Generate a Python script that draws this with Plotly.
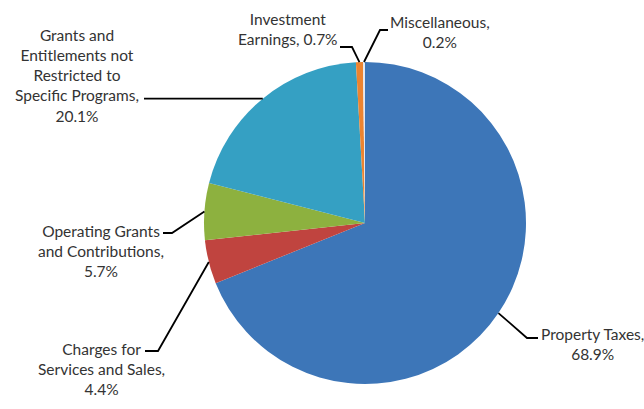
import math
import plotly.graph_objects as go

# ---- data ----
labels = ["Property Taxes", "Charges for Services and Sales", "Operating Grants and Contributions",
          "Grants and Entitlements not Restricted to Specific Programs", "Investment Earnings", "Miscellaneous"]
values = [68.9, 4.4, 5.7, 20.1, 0.7, 0.2]
label_texts = [
    "Property Taxes,<br>68.9%",
    "Charges for<br>Services and Sales,<br>4.4%",
    "Operating Grants<br>and Contributions,<br>5.7%",
    "Grants and<br>Entitlements not<br>Restricted to<br>Specific Programs,<br>20.1%",
    "Investment<br>Earnings, 0.7%",
    "Miscellaneous,<br>0.2%",
]
colors = ["#3D76B8", "#C0443F", "#8DB13F", "#35A0C3", "#EC8430", "#E4E8EE"]

# ---- layout (pixels) ----
W, H = 644, 409
CX, CY, R = 365, 223, 161

# label centres and leader elbow / end points (pixel coordinates)
label_pos = [(592, 344), (101, 369), (101, 251), (77, 75), (288, 29), (440, 32)]
elbows = [(527, 338), (158, 351), (172, 233), None, (352, 47), (380, 30)]
ends = [(538, 338), (145, 351), (163, 233), (144, None), (340, 47), (388, 30)]


def px(x, y):
    return x / W, (H - y) / H


fig = go.Figure(go.Pie(
    labels=labels, values=values, sort=False, direction="clockwise", rotation=0,
    marker=dict(colors=colors, line=dict(width=0)),
    textinfo="none", showlegend=False,
    domain=dict(x=[(CX - R) / W, (CX + R) / W], y=[(H - (CY + R)) / H, (H - (CY - R)) / H]),
))

total = sum(values)
cum = 0
shapes = []
annotations = []
for i, v in enumerate(values):
    theta = 2 * math.pi * (cum + v / 2) / total
    cum += v
    sx = CX + R * math.sin(theta)
    sy = CY - R * math.cos(theta)
    pts = [(sx, sy)]
    if elbows[i] is not None:
        pts.append(elbows[i])
    ex, ey = ends[i]
    if ey is None:
        ey = sy
    pts.append((ex, ey))
    path = ""
    for j, (x, y) in enumerate(pts):
        X, Y = px(x, y)
        path += ("M" if j == 0 else "L") + f"{X},{Y} "
    shapes.append(dict(type="path", xref="paper", yref="paper", path=path,
                       line=dict(color="#000000", width=1.8)))
    lx, ly = px(*label_pos[i])
    annotations.append(dict(x=lx, y=ly, xref="paper", yref="paper", text=label_texts[i],
                            showarrow=False, xanchor="center", yanchor="middle", align="center",
                            font=dict(family="Lato", size=15.5, color="#333333")))

fig.update_layout(width=W, height=H, margin=dict(l=0, r=0, t=0, b=0),
                  paper_bgcolor="white", plot_bgcolor="white",
                  shapes=shapes, annotations=annotations)
fig.write_html("out.html")
